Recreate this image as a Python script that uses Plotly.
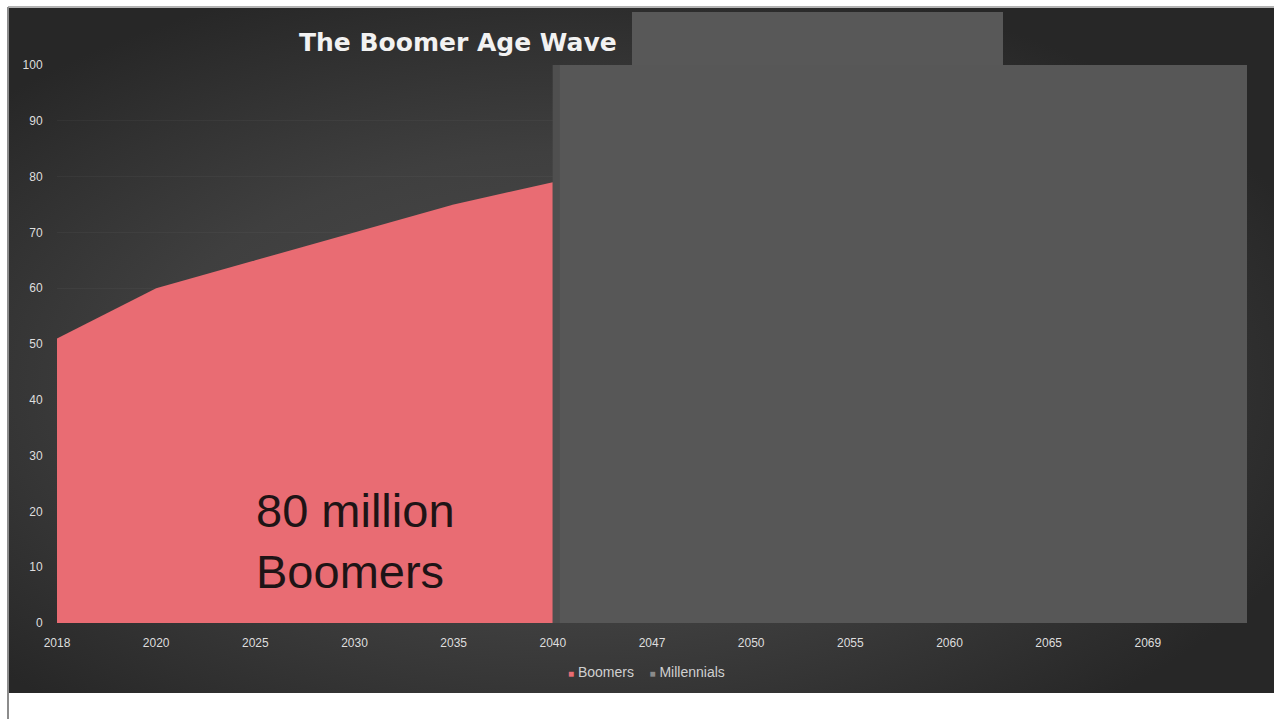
import base64
import plotly.graph_objects as go

# ---- data ----
years = ["2018", "2020", "2025", "2030", "2035", "2040", "2047", "2050", "2055", "2060", "2065", "2069"]
boomer_years = ["2018", "2020", "2025", "2030", "2035", "2040"]
boomers = [51, 60, 65, 70, 75, 79]
y_ticks = [0, 10, 20, 30, 40, 50, 60, 70, 80, 90, 100]
series_names = ["Boomers", "Millennials"]
series_colors = ["#E96C73", "#8a8a8a"]

W, H = 1274, 719
L, R, T, B = 57, 27, 65, 96
pw, ph = W - L - R, H - T - B

def px(x):
    return (x - L) / pw

def py(y):
    return (H - B - y) / ph

svg = (
    "<svg xmlns='http://www.w3.org/2000/svg' width='1265' height='685' preserveAspectRatio='none'>"
    "<defs><radialGradient id='g' cx='0.45' cy='0.55' r='0.62'>"
    "<stop offset='0' stop-color='#4d4d4d'/><stop offset='0.55' stop-color='#3f3f3f'/>"
    "<stop offset='1' stop-color='#272727'/></radialGradient></defs>"
    "<rect width='1265' height='685' fill='url(#g)'/></svg>"
)
svg_uri = "data:image/svg+xml;base64," + base64.b64encode(svg.encode()).decode()

fig = go.Figure()
fig.add_trace(go.Scatter(
    x=boomer_years, y=boomers, mode="lines", fill="tozeroy",
    line=dict(color=series_colors[0], width=0), fillcolor=series_colors[0],
    showlegend=False, hoverinfo="x+y", name=series_names[0],
))

shapes = [
    # grey cover box over the future years
    dict(type="rect", xref="x", yref="y", x0=years.index("2040"), x1=len(years),
         y0=-0.7, y1=100, fillcolor="#575757", line=dict(width=0), layer="above"),
    dict(type="rect", xref="x", yref="y", x0=years.index("2040"), x1=years.index("2040") + 0.07,
         y0=-0.7, y1=100, fillcolor="#4f4f4f", line=dict(width=0), layer="above"),
    dict(type="rect", xref="paper", yref="paper", x0=px(632), x1=px(1003),
         y0=1.0, y1=py(12), fillcolor="#585858", line=dict(width=0), layer="above"),
    # left / top border lines of the slide
    dict(type="line", xref="paper", yref="paper", x0=px(8), x1=px(8),
         y0=py(719), y1=py(7), line=dict(color="#8c8c8c", width=2)),
    dict(type="line", xref="paper", yref="paper", x0=px(8), x1=px(1274),
         y0=py(7), y1=py(7), line=dict(color="#9a9a9a", width=1.5)),
]

legend_text = "&nbsp;&nbsp;&nbsp;&nbsp;".join(
    f"<span style='color:{c};font-size:10px'>■</span>&nbsp;{n}" for n, c in zip(series_names, series_colors)
)

tick_font = dict(family="Liberation Sans Narrow, Arial Narrow, Liberation Sans, Arial",
                 size=12, color="#dedede")

fig.update_layout(
    width=W, height=H,
    margin=dict(l=L, r=R, t=T, b=B),
    paper_bgcolor="#ffffff",
    plot_bgcolor="rgba(0,0,0,0)",
    images=[dict(source=svg_uri, xref="paper", yref="paper",
                 x=px(9), y=py(8), sizex=px(1274) - px(9), sizey=py(8) - py(693),
                 xanchor="left", yanchor="top", sizing="stretch", layer="below")],
    shapes=shapes,
    showlegend=False,
    annotations=[
        dict(text="<b>The Boomer Age Wave</b>", xref="paper", yref="paper",
             x=px(297), y=py(43), xanchor="left", yanchor="middle", showarrow=False,
             font=dict(family="DejaVu Sans, Verdana", size=25, color="#f2f2f2")),
        dict(text="80 million<br>Boomers", xref="paper", yref="paper",
             x=px(254), y=py(541), xanchor="left", yanchor="middle", showarrow=False,
             align="left",
             font=dict(family="Liberation Sans, Arial", size=47, color="#1e1416")),
        dict(text=legend_text, xref="paper", yref="paper",
             x=px(646), y=py(672), xanchor="center", yanchor="middle", showarrow=False,
             font=dict(family="Liberation Sans Narrow, Arial Narrow, Liberation Sans, Arial",
                       size=14, color="#d0d0d0")),
    ],
    xaxis=dict(type="category", categoryorder="array", categoryarray=years,
               range=[0, len(years)], showgrid=False, zeroline=False, showline=False,
               ticks="outside", ticklen=9, tickcolor="rgba(0,0,0,0)", tickfont=tick_font),
    yaxis=dict(range=[0, 100], tickvals=y_ticks, showgrid=True,
               gridcolor="rgba(255,255,255,0.035)", zeroline=False, showline=False,
               ticks="outside", ticklen=11, tickcolor="rgba(0,0,0,0)", tickfont=tick_font),
)

fig.write_html("out.html")
